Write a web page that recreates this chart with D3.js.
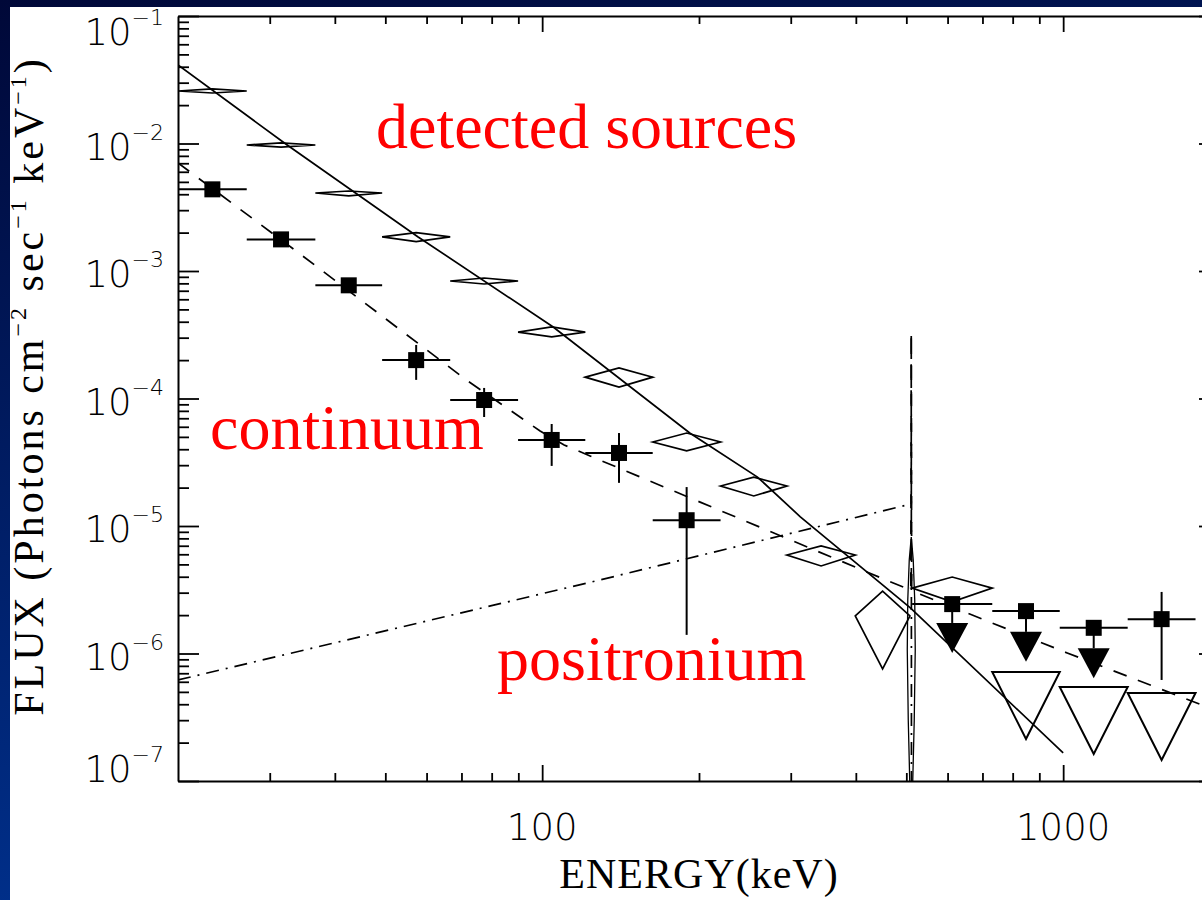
<!DOCTYPE html>
<html>
<head>
<meta charset="utf-8">
<script src="https://cdn.jsdelivr.net/npm/d3@7"></script>
<style>
  html, body { margin: 0; padding: 0; background: #fff; }
  svg { display: block; }
  .axis .domain { stroke: #000; stroke-width: 2; }
  .axis .tick line { stroke: #000; stroke-width: 1.8; }
  .ticklabel { font-family: "DejaVu Sans", sans-serif; font-weight: 300; fill: #000; }
  .title { font-family: "Liberation Serif", "Times New Roman", serif; fill: #000; }
  .note { font-family: "Liberation Serif", "Times New Roman", serif; fill: #ff0000; font-size: 64px; }
</style>
</head>
<body>
<div id="chart"></div>
<script>
// Energy bins (keV) shared by both data sets
const binLo = [20, 27.1, 36.7, 49.3, 66.6, 89.9, 121, 163, 220, 295, 399, 513, 731, 985, 1330];
const binHi = [27.1, 36.7, 49.3, 66.6, 89.9, 121, 163, 220, 295, 399, 508, 731, 985, 1330, 1795];

// Detected sources: diamonds (bins 0-11), open upper limits (bins 12-14)
const srcFlux = [2.58e-2, 9.73e-3, 4.09e-3, 1.85e-3, 8.35e-4, 3.32e-4, 1.47e-4, 4.56e-5, 2.06e-5, 5.92e-6, 1.97e-6, 3.26e-6];
const srcHi   = [2.68e-2, 1.01e-2, 4.24e-3, 2.00e-3, 8.81e-4, 3.64e-4, 1.74e-4, 5.36e-5, 2.42e-5, 6.97e-6, 3.09e-6, 3.98e-6];
const srcLo   = [2.49e-2, 9.38e-3, 3.88e-3, 1.70e-3, 7.91e-4, 3.04e-4, 1.23e-4, 3.88e-5, 1.72e-5, 4.86e-6, 7.56e-7, 2.54e-6];
const srcLimitBin = [12, 13, 14];
const srcLimit    = [7.16e-7, 5.46e-7, 4.90e-7];

// Continuum: filled squares
const contBin   = [0, 1, 2, 3, 4, 5, 6, 7, 11, 12, 13, 14];
const contFlux  = [4.37e-3, 1.77e-3, 7.72e-4, 2.00e-4, 9.73e-5, 4.73e-5, 3.74e-5, 1.11e-5, 2.44e-6, 2.15e-6, 1.59e-6, 1.86e-6];
const contHi    = [4.37e-3, 1.77e-3, 7.72e-4, 2.63e-4, 1.21e-4, 6.31e-5, 5.36e-5, 2.02e-5, 2.44e-6, 2.15e-6, 1.59e-6, 3.04e-6];
const contLo    = [4.37e-3, 1.77e-3, 7.72e-4, 1.40e-4, 7.16e-5, 2.96e-5, 2.18e-5, 1.40e-6, 1.01e-6, 8.6e-7, 6.4e-7, 6.2e-7];
const contArrow = [false, false, false, false, false, false, false, false, true, true, true, false];

// Model curves
const solidE = [20, 32.4, 57.8, 105, 192, 259, 313, 509, 1000];
const solidF = [4.13e-2, 9.73e-3, 1.85e-3, 3.64e-4, 5.36e-5, 2.42e-5, 1.18e-5, 2.28e-6, 1.66e-7];
const lineE = [507.6, 504.3, 502.1, 503.2, 506.5, 511, 515.5, 518.9, 520.1, 517.8, 514.4];
const lineF = [1e-7, 3.0e-7, 1.07e-6, 2.63e-6, 5.41e-6, 8.2e-6, 5.41e-6, 2.63e-6, 1.07e-6, 3.0e-7, 1e-7];
const dashE = [20, 34.3, 71.5, 99.1, 110.2, 123.6, 201, 472, 510, 511, 512, 1018, 2000];
const dashF = [7.04e-3, 1.36e-3, 1.40e-4, 5.56e-5, 4.32e-5, 3.54e-5, 1.54e-5, 3.57e-6, 3.15e-6, 3.26e-4, 3.1e-6, 1.01e-6, 3.48e-7];
const posE = [20, 129, 511, 511, 511.5];
const posF = [6.2e-7, 3.77e-6, 1.49e-5, 3.26e-4, 1e-7];

// Axis ticks
const xMajor = [100, 1000];
const xMinor = [30, 40, 50, 60, 70, 80, 90, 200, 300, 400, 500, 600, 700, 800, 900];
const yExp = [-7, -6, -5, -4, -3, -2, -1];
const yMinorMult = [2, 3, 4, 5, 6, 7, 8, 9];

const W = 1202, H = 900;
const svg = d3.select('#chart').append('svg').attr('width', W).attr('height', H);

// Slide frame
const grad = svg.append('defs').append('linearGradient')
    .attr('id', 'frame').attr('x1', 0).attr('y1', 0).attr('x2', 0.3).attr('y2', 1);
grad.append('stop').attr('offset', '0%').attr('stop-color', '#000838');
grad.append('stop').attr('offset', '100%').attr('stop-color', '#003290');
svg.append('rect').attr('width', W).attr('height', H).attr('fill', 'url(#frame)');
svg.append('rect').attr('x', 10).attr('y', 7).attr('width', W - 10).attr('height', H - 7).attr('fill', '#fff');

const x0 = 178, x1 = 1220, y0 = 781, y1 = 16;
const x = d3.scaleLog().domain([20, 2000]).range([x0, x1]);
const y = d3.scaleLog().domain([1e-7, 1e-1]).range([y0, y1]);

svg.select('defs').append('clipPath').attr('id', 'plot')
    .append('rect').attr('x', x0).attr('y', y1).attr('width', x1 - x0).attr('height', y0 - y1);

const yMajor = yExp.map(e => Math.pow(10, e));
const yMinor = [];
yExp.slice(0, -1).forEach(e => yMinorMult.forEach(m => yMinor.push(m * Math.pow(10, e))));

// Axes: ticks point inwards on all four sides
const addAxis = (gen, tx, ty, values, size, keepDomain) => {
    const g = svg.append('g').attr('class', 'axis')
        .attr('transform', `translate(${tx},${ty})`)
        .call(gen.tickValues(values).tickSize(size).tickSizeOuter(0).tickFormat(''));
    if (!keepDomain) g.select('.domain').remove();
};
addAxis(d3.axisRight(y), x0, 0, yMajor, 21, true);
addAxis(d3.axisRight(y), x0, 0, yMinor, 11, false);
addAxis(d3.axisLeft(y), x1, 0, yMajor, 21, true);
addAxis(d3.axisLeft(y), x1, 0, yMinor, 11, false);
addAxis(d3.axisTop(x), 0, y0, xMajor, 16, true);
addAxis(d3.axisTop(x), 0, y0, xMinor, 8, false);
addAxis(d3.axisBottom(x), 0, y1, xMajor, 16, true);
addAxis(d3.axisBottom(x), 0, y1, xMinor, 8, false);

// Y tick labels: 10^n, end labels kept inside the axis span
yExp.forEach((e, i) => {
    const base = Math.max(45, Math.min(782, y(Math.pow(10, e)) + 16));
    const t = svg.append('text').attr('class', 'ticklabel')
        .attr('x', 164).attr('y', base).attr('text-anchor', 'end');
    t.append('tspan').style('font-size', '37px').text('10');
    t.append('tspan').style('font-size', '22px').attr('dy', -20).text('\u2212' + Math.abs(e));
});

// X tick labels
svg.selectAll('.xlabel').data(xMajor).enter().append('text')
    .attr('class', 'ticklabel')
    .attr('x', d => x(d)).attr('y', 840)
    .attr('text-anchor', 'middle')
    .style('font-size', '37px')
    .text(d => d);

// Axis titles
svg.append('text').attr('class', 'title')
    .attr('x', (x0 + x1) / 2).attr('y', 888)
    .attr('text-anchor', 'middle')
    .style('font-size', '42px')
    .style('letter-spacing', '1px')
    .text('ENERGY(keV)');

const yt = svg.append('text').attr('class', 'title')
    .attr('transform', 'translate(43,386) rotate(-90)')
    .attr('text-anchor', 'middle')
    .style('font-size', '42px')
    .style('letter-spacing', '3px');
yt.append('tspan').text('FLUX (Photons cm');
yt.append('tspan').attr('dy', -17).style('font-size', '24px').text('\u22122');
yt.append('tspan').attr('dy', 17).text(' sec');
yt.append('tspan').attr('dy', -17).style('font-size', '24px').text('\u22121');
yt.append('tspan').attr('dy', 17).text(' keV');
yt.append('tspan').attr('dy', -17).style('font-size', '24px').text('\u22121');
yt.append('tspan').attr('dy', 17).text(')');

// Model curves
const plot = svg.append('g').attr('clip-path', 'url(#plot)');
const line = d3.line().x(d => x(d[0])).y(d => y(d[1]));
const curve = (E, F, dash) => plot.append('path')
    .datum(E.map((e, i) => [e, F[i]]))
    .attr('d', line)
    .attr('fill', 'none').attr('stroke', '#000').attr('stroke-width', 1.7)
    .attr('stroke-dasharray', dash);
curve(solidE, solidF, null);
curve(lineE, lineF, null).attr('stroke-width', 1.3);
curve(dashE, dashF, '14,12');
curve(posE, posF, '13,7,2,7');

const bc = i => Math.sqrt(binLo[i] * binHi[i]);

// Detected sources: diamonds spanning bin and flux range
plot.selectAll('.diamond').data(srcFlux).enter().append('path')
    .attr('d', (f, i) => `M${x(binLo[i])},${y(f)}L${x(bc(i))},${y(srcHi[i])}` +
        `L${x(binHi[i])},${y(f)}L${x(bc(i))},${y(srcLo[i])}Z`)
    .attr('fill', 'none').attr('stroke', '#000').attr('stroke-width', 1.7);

// Detected sources: open upper limits
plot.selectAll('.limit').data(srcLimit).enter().append('path')
    .attr('d', (f, i) => {
        const b = srcLimitBin[i];
        return `M${x(binLo[b])},${y(f)}L${x(binHi[b])},${y(f)}L${x(bc(b))},${y(f) + 67}Z`;
    })
    .attr('fill', 'none').attr('stroke', '#000').attr('stroke-width', 2);

// Continuum: error bars, arrows and squares
contFlux.forEach((f, i) => {
    const b = contBin[i];
    const cx = x(bc(b));
    const g = plot.append('g').attr('stroke', '#000').attr('stroke-width', 2);
    g.append('line').attr('x1', x(binLo[b])).attr('x2', x(binHi[b])).attr('y1', y(f)).attr('y2', y(f));
    const bottom = contArrow[i] ? y(contLo[i]) - 30 : y(contLo[i]);
    if (contHi[i] !== contLo[i]) {
        g.append('line').attr('x1', cx).attr('x2', cx).attr('y1', y(contHi[i])).attr('y2', bottom);
    }
    if (contArrow[i]) {
        const ty = y(contLo[i]);
        g.append('path').attr('d', `M${cx - 16},${ty - 30}L${cx + 16},${ty - 30}L${cx},${ty}Z`)
            .attr('fill', '#000').attr('stroke', 'none');
    }
    g.append('rect').attr('x', cx - 8).attr('y', y(f) - 8).attr('width', 16).attr('height', 16)
        .attr('fill', '#000').attr('stroke', 'none');
});

// Annotations
svg.append('text').attr('class', 'note').attr('x', 376).attr('y', 148).text('detected sources');
svg.append('text').attr('class', 'note').attr('x', 210).attr('y', 449).text('continuum');
svg.append('text').attr('class', 'note').attr('x', 497).attr('y', 680).text('positronium');
</script>
</body>
</html>
